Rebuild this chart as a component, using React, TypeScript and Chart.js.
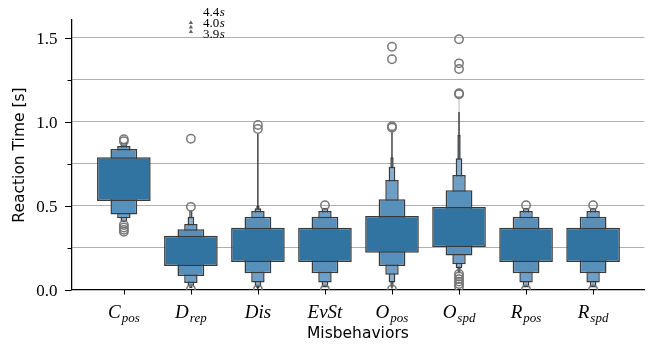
import React, { useEffect, useRef } from 'react';
import { Chart, registerables } from 'chart.js';

Chart.register(...registerables);

// ---- data ----
const categories = ['C_pos', 'D_rep', 'Dis', 'EvSt', 'O_pos', 'O_spd', 'R_pos', 'R_spd'];
const labelMain = ['C', 'D', 'Dis', 'EvSt', 'O', 'O', 'R', 'R'];
const labelSub = ['pos', 'rep', '', '', 'pos', 'spd', 'pos', 'spd'];

// letter-value boxes, innermost first: [lower, upper] (null = level not visible)
const levelsCpos = [[0.53, 0.79], [0.45, 0.839], [0.427, 0.857], [0.405, 0.875]];
const levelsDrep = [[0.143, 0.323], [0.083, 0.361], [0.042, 0.393], [0.024, 0.436], [0.01, 0.474]];
const levelsDis = [[0.167, 0.371], [0.099, 0.436], [0.044, 0.47], [0.02, 0.486], [0.01, 0.5], [0.005, 0.93]];
const levelsEvSt = [[0.167, 0.371], [0.099, 0.436], [0.044, 0.47], [0.015, 0.49]];
const levelsOpos = [[0.222, 0.44], [0.143, 0.54], [0.091, 0.655], [0.045, 0.734], [0.02, 0.79], [0.008, 0.955]];
const levelsOspd = [[0.256, 0.494], [0.206, 0.593], [0.153, 0.685], [0.129, 0.784], [0.109, 0.923], [0.1, 1.06], [0.095, 1.155]];
const levelsRpos = [[0.167, 0.371], [0.099, 0.436], [0.044, 0.47], [0.015, 0.49]];
const levelsRspd = [[0.167, 0.371], [0.099, 0.436], [0.044, 0.47], [0.015, 0.49]];

const outliersCpos = [0.885, 0.897, 0.387, 0.372, 0.358, 0.347];
const outliersDrep = [0.495, 0.9, 0.004];
const outliersDis = [0.958, 0.982, 0.004];
const outliersEvSt = [0.505, 0.004];
const outliersOpos = [0.966, 0.975, 1.373, 1.448, 0.004];
const outliersOspd = [1.165, 1.171, 1.315, 1.349, 1.492, 0.095, 0.08, 0.065, 0.05, 0.035, 0.02];
const outliersRpos = [0.505, 0.004];
const outliersRspd = [0.505, 0.004];

// D_rep outliers beyond the axis limit (seconds)
const offscaleDrep = [4.4, 4.0, 3.9];
const offscaleIndex = 1;

const levelColors = ['#3274a1', '#5790bb', '#6f9fc6', '#88b0d2', '#9fc0dc', '#3d3d3d', '#3d3d3d'];
const edgeColor = '#3a3a3a';

const allLevels = [levelsCpos, levelsDrep, levelsDis, levelsEvSt, levelsOpos, levelsOspd, levelsRpos, levelsRspd];
const allOutliers = [outliersCpos, outliersDrep, outliersDis, outliersEvSt, outliersOpos, outliersOspd, outliersRpos, outliersRspd];

const isMajor = (v: number) => Math.abs(v * 2 - Math.round(v * 2)) < 1e-6;

const decorPlugin = {
  id: 'decor',
  afterDraw(chart: any) {
    const ctx = chart.ctx;
    const ca = chart.chartArea;
    const xs = chart.scales.x;
    const ys = chart.scales.y;
    ctx.save();
    // y tick marks and labels
    ctx.strokeStyle = '#000';
    ctx.lineWidth = 1;
    ys.ticks.forEach((t: any) => {
      const py = Math.round(ys.getPixelForValue(t.value)) + 0.5;
      const major = isMajor(t.value);
      const len = major ? 6.5 : 4;
      ctx.beginPath();
      ctx.moveTo(ca.left - len, py);
      ctx.lineTo(ca.left, py);
      ctx.stroke();
      if (major) {
        ctx.fillStyle = '#000';
        ctx.font = '17px "Liberation Serif"';
        ctx.textAlign = 'right';
        ctx.textBaseline = 'middle';
        ctx.fillText(Number(t.value).toFixed(1), ca.left - 14, py + 1);
      }
    });
    // x tick marks + labels
    categories.forEach((_, i) => {
      const px = Math.round(xs.getPixelForValue(i)) + 0.5;
      ctx.beginPath();
      ctx.moveTo(px, ca.bottom);
      ctx.lineTo(px, ca.bottom + 4.5);
      ctx.stroke();
      const mainFont = 'italic 19px "Liberation Serif"';
      const subFont = 'italic 13px "Liberation Serif"';
      ctx.font = mainFont;
      const wm = ctx.measureText(labelMain[i]).width;
      ctx.font = subFont;
      const ws = labelSub[i] ? ctx.measureText(labelSub[i]).width + 1 : 0;
      const start = xs.getPixelForValue(i) - (wm + ws) / 2;
      ctx.fillStyle = '#000';
      ctx.textBaseline = 'alphabetic';
      ctx.textAlign = 'left';
      ctx.font = mainFont;
      ctx.fillText(labelMain[i], start, ca.bottom + 28);
      if (labelSub[i]) {
        ctx.font = subFont;
        ctx.fillText(labelSub[i], start + wm + 1, ca.bottom + 32);
      }
    });
    // axis titles
    ctx.fillStyle = '#000';
    ctx.font = '15.5px "DejaVu Sans"';
    ctx.textAlign = 'center';
    ctx.textBaseline = 'middle';
    ctx.fillText('Misbehaviors', (ca.left + ca.right) / 2, ca.bottom + 44);
    ctx.save();
    ctx.translate(20, (ca.top + ca.bottom) / 2);
    ctx.rotate(-Math.PI / 2);
    ctx.fillText('Reaction Time [s]', 0, 0);
    ctx.restore();
    // off-scale annotations
    const ax = xs.getPixelForValue(offscaleIndex);
    offscaleDrep.forEach((v, k) => {
      const my = ca.top + 2.5 + k * 4.5;
      ctx.fillStyle = '#666';
      ctx.beginPath();
      ctx.moveTo(ax, my - 2.2);
      ctx.lineTo(ax + 2.2, my + 1.6);
      ctx.lineTo(ax - 2.2, my + 1.6);
      ctx.closePath();
      ctx.fill();
      const ty = ca.top - 7.3 + k * 10.8;
      ctx.fillStyle = '#000';
      ctx.textAlign = 'left';
      ctx.textBaseline = 'middle';
      ctx.font = '13px "Liberation Serif"';
      const num = v.toFixed(1);
      ctx.fillText(num, ax + 12, ty);
      const w = ctx.measureText(num).width;
      ctx.font = 'italic 13px "Liberation Serif"';
      ctx.fillText('s', ax + 12.5 + w, ty);
    });
    ctx.restore();
  },
};

export default function App() {
  const ref = useRef<HTMLCanvasElement | null>(null);
  useEffect(() => {
    document.body.style.margin = '0';
    if (!ref.current) return;
    const maxLevels = Math.max(...allLevels.map((l) => l.length));
    const datasets: any[] = [];
    for (let k = 0; k < maxLevels; k++) {
      datasets.push({
        type: 'bar',
        data: allLevels.flatMap((lv, i) => (lv[k] ? [{ x: i, y: lv[k] }] : [])),
        backgroundColor: levelColors[k],
        borderColor: edgeColor,
        borderWidth: 1.5,
        borderSkipped: false,
        barPercentage: 0.8 / Math.pow(2, k),
        categoryPercentage: 1,
        grouped: false,
        order: k,
      });
    }
    datasets.push({
      type: 'scatter',
      data: allOutliers.flatMap((o, i) => o.map((v) => ({ x: i, y: v }))),
      pointRadius: 4.2,
      pointBorderWidth: 1.5,
      pointBorderColor: '#777777',
      pointBackgroundColor: 'rgba(0,0,0,0)',
      order: -1,
      clip: 0,
    });
    const chart = new Chart(ref.current, {
      type: 'bar',
      data: { datasets },
      options: {
        animation: false,
        responsive: false,
        maintainAspectRatio: false,
        layout: { padding: { top: 20, left: 0, right: 0, bottom: 0 } },
        plugins: { legend: { display: false }, tooltip: { enabled: false } },
        scales: {
          x: {
            type: 'linear',
            min: -0.781,
            max: 7.764,
            offset: false,
            ticks: { display: false },
            grid: { display: false, drawTicks: false },
            border: { display: true, color: '#000', width: 1.25 },
            afterFit: (s: any) => {
              s.height = 55;
            },
          },
          y: {
            type: 'linear',
            min: 0,
            max: 1.607,
            ticks: {
              display: false,
              stepSize: 0.25,
              includeBounds: false,
              autoSkip: false,
            },
            grid: {
              color: (c: any) => (c.tick && c.tick.value === 0 ? 'rgba(0,0,0,0)' : '#b0b0b0'),
              lineWidth: 1.1,
              drawTicks: false,
            },
            border: { display: true, color: '#000', width: 1.25 },
            afterFit: (s: any) => {
              s.width = 71.5;
            },
          },
        },
      } as any,
      plugins: [decorPlugin],
    });
    return () => chart.destroy();
  }, []);
  return <canvas ref={ref} width={650} height={345} style={{ display: 'block' }} />;
}
